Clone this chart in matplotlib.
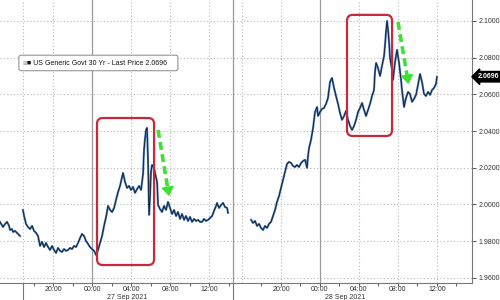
import matplotlib
matplotlib.use('Agg')
import matplotlib.pyplot as plt
import matplotlib.transforms as mtransforms
from matplotlib.patches import FancyBboxPatch

plt.rcParams['font.family'] = ['Liberation Sans', 'DejaVu Sans']

# hours relative to 27 Sep 2021 00:00, yields in %
pre_hours = [-9.44, -9.13, -8.92, -8.72, -8.51, -8.41, -8.21, -8.10, -7.90, -7.69, -7.49, -7.38]
pre_yield = [1.9905, 1.9877, 1.9894, 1.9905, 1.9883, 1.9861, 1.9866, 1.9850, 1.9856, 1.9845, 1.9834, 1.9828]

day1_hours = [-7.08, -6.97, -6.77, -6.56, -6.36, -6.15, -5.95, -5.74, -5.54, -5.33,
              -5.13, -4.92, -4.72, -4.51, -4.31, -4.10, -3.90, -3.69, -3.49, -3.28,
              -3.08, -2.87, -2.67, -2.46, -2.26, -2.05, -1.85, -1.64, -1.44, -1.23,
              -1.03, -0.82, -0.62, -0.41, -0.21, 0.00, 0.21, 0.41, 0.62, 0.82,
              1.03, 1.23, 1.44, 1.64, 1.85, 2.05, 2.26, 2.46, 2.67, 2.87,
              3.08, 3.18, 3.38, 3.59, 3.79, 4.00, 4.21, 4.41, 4.62, 4.82,
              5.03, 5.23, 5.33, 5.44, 5.54, 5.64, 5.74, 5.85, 5.95, 6.05,
              6.15, 6.36, 6.46, 6.67, 6.77, 6.97, 7.18, 7.38, 7.59, 7.79,
              8.00, 8.21, 8.41, 8.62, 8.82, 9.03, 9.23, 9.44, 9.64, 9.85,
              10.05, 10.26, 10.46, 10.67, 10.87, 11.08, 11.28, 11.49, 11.69, 11.90,
              12.10, 12.31, 12.51, 12.72, 12.82, 13.03, 13.23, 13.44, 13.64, 13.85,
              13.95]
day1_yield = [1.9970, 1.9937, 1.9894, 1.9877, 1.9866, 1.9883, 1.9856, 1.9845, 1.9828, 1.9774,
              1.9796, 1.9768, 1.9790, 1.9768, 1.9752, 1.9774, 1.9752, 1.9736, 1.9763, 1.9747,
              1.9741, 1.9757, 1.9747, 1.9752, 1.9763, 1.9757, 1.9774, 1.9768, 1.9790, 1.9817,
              1.9839, 1.9828, 1.9801, 1.9785, 1.9768, 1.9757, 1.9747, 1.9725, 1.9752, 1.9790,
              1.9828, 1.9883, 1.9932, 1.9992, 1.9970, 1.9959, 1.9981, 2.0025, 2.0068, 2.0101,
              2.0150, 2.0172, 2.0123, 2.0090, 2.0101, 2.0079, 2.0095, 2.0063, 2.0084, 2.0101,
              2.0079, 2.0166, 2.0297, 2.0362, 2.0406, 2.0417, 2.0243, 1.9943, 2.0046, 2.0177,
              2.0215, 2.0199, 2.0172, 2.0123, 1.9997, 1.9975, 1.9959, 1.9992, 1.9970, 2.0014,
              1.9981, 1.9948, 1.9970, 1.9937, 1.9959, 1.9921, 1.9948, 1.9916, 1.9937, 1.9910,
              1.9932, 1.9905, 1.9921, 1.9910, 1.9916, 1.9905, 1.9905, 1.9921, 1.9910, 1.9916,
              1.9926, 1.9937, 1.9965, 1.9992, 2.0008, 1.9981, 1.9997, 2.0008, 1.9986, 1.9981,
              1.9954]

day2_hours = [16.93, 17.13, 17.34, 17.54, 17.75, 17.95, 18.16, 18.36, 18.57, 18.77,
              18.98, 19.18, 19.39, 19.59, 19.80, 20.00, 20.21, 20.41, 20.62, 20.82,
              21.03, 21.23, 21.44, 21.64, 21.85, 22.06, 22.26, 22.47, 22.67, 22.77,
              22.88, 23.08, 23.29, 23.49, 23.70, 23.80, 24.00, 24.21, 24.41, 24.62,
              24.82, 25.03, 25.23, 25.44, 25.64, 25.85, 26.05, 26.26, 26.47, 26.67,
              26.88, 27.08, 27.29, 27.49, 27.70, 27.90, 28.11, 28.31, 28.52, 28.72,
              28.93, 29.13, 29.34, 29.54, 29.64, 29.75, 29.95, 30.16, 30.36, 30.57,
              30.67, 30.77, 30.88, 30.98, 31.08, 31.18, 31.39, 31.49, 31.70, 31.90,
              32.11, 32.31, 32.41, 32.62, 32.82, 33.03, 33.23, 33.44, 33.64, 33.85,
              34.05, 34.26, 34.46, 34.67, 34.87, 35.08, 35.29, 35.49, 35.70, 35.90,
              36.00]
day2_yield = [1.9916, 1.9899, 1.9910, 1.9883, 1.9894, 1.9872, 1.9861, 1.9883, 1.9872, 1.9894,
              1.9905, 1.9937, 1.9970, 2.0014, 2.0046, 2.0090, 2.0134, 2.0177, 2.0221, 2.0232,
              2.0226, 2.0210, 2.0204, 2.0215, 2.0204, 2.0226, 2.0237, 2.0243, 2.0199, 2.0264,
              2.0308, 2.0352, 2.0417, 2.0504, 2.0531, 2.0482, 2.0504, 2.0520, 2.0526, 2.0548,
              2.0580, 2.0668, 2.0689, 2.0635, 2.0591, 2.0548, 2.0499, 2.0461, 2.0482, 2.0510,
              2.0461, 2.0428, 2.0406, 2.0428, 2.0461, 2.0504, 2.0526, 2.0553, 2.0515, 2.0482,
              2.0515, 2.0548, 2.0591, 2.0624, 2.0722, 2.0771, 2.0744, 2.0700, 2.0755, 2.0809,
              2.0869, 2.0940, 2.1000, 2.0951, 2.0886, 2.0798, 2.0733, 2.0679, 2.0777, 2.0842,
              2.0771, 2.0679, 2.0624, 2.0531, 2.0580, 2.0613, 2.0602, 2.0559, 2.0575, 2.0597,
              2.0651, 2.0711, 2.0668, 2.0602, 2.0591, 2.0613, 2.0597, 2.0624, 2.0635, 2.0657,
              2.0696]

last_price = 2.0696
y_ticks = [1.96, 1.98, 2.00, 2.02, 2.04, 2.06, 2.08, 2.10]
tick_hours_day1 = [-4, 0, 4, 8, 12]
tick_hours_day2 = [20, 24, 28, 32, 36]
tick_labels = ['20:00', '00:00', '04:00', '08:00', '12:00']

# the chart squeezes out the quiet hours between the two sessions
GAP = 0.62
def shift2(h):
    return [v - GAP for v in h]

LINE_BLUE = '#4678b4'
RED = '#c8283c'
GREEN = '#3fe034'
GRID = '#b8b8b8'

fig = plt.figure(figsize=(5, 3), dpi=100)
ax = fig.add_axes([0, 17 / 300, 472 / 500, 283 / 300])
ax.set_xlim(-9.44, 38.97)
ax.set_ylim(1.9572, 2.1114)

for hx, yy in [(pre_hours, pre_yield), (day1_hours, day1_yield), (shift2(day2_hours), day2_yield)]:
    ax.plot(hx, yy, color=LINE_BLUE, lw=1.5, zorder=3)
    ax.plot(hx, yy, color='#0e1620', lw=0.55, zorder=4)

# grid
for y in y_ticks:
    ax.axhline(y, color=GRID, lw=0.8, ls=(0, (1, 2)), zorder=1)
dotted_x = [-7.08, -4, 4, 8, 12] + shift2([16, 20, 28, 32, 36])
for x in dotted_x:
    ax.axvline(x, color=GRID, lw=0.8, ls=(0, (1, 2)), zorder=1)
sep = 14.46
for x in [0, sep] + shift2([24]):
    ax.axvline(x, color='#9a9a9a', lw=0.9, zorder=1)

# long ticks below axis at session breaks
trans = mtransforms.blended_transform_factory(ax.transData, ax.transAxes)
for x in [-7.08, sep]:
    ax.plot([x, x], [0, -0.07], transform=trans, color='#777777', lw=0.8, clip_on=False)

# axes style
for s in ['top', 'left']:
    ax.spines[s].set_visible(False)
ax.spines['bottom'].set_color('#777777')
ax.spines['right'].set_color('#777777')
ax.spines['bottom'].set_linewidth(0.8)
ax.spines['right'].set_linewidth(0.8)

ax.yaxis.tick_right()
ax.set_yticks(y_ticks)
ax.set_yticklabels([f'{v:.4f}' for v in y_ticks])
ax.tick_params(axis='y', length=3, width=0.7, color='#555555', labelsize=5, pad=1.5, labelcolor='#333333')

ax.set_xticks(tick_hours_day1 + shift2(tick_hours_day2))
ax.set_xticklabels(tick_labels + tick_labels)
minor = [-6, -2, 2, 6, 10, 14] + shift2([18, 22, 26, 30, 34, 38])
ax.set_xticks(minor, minor=True)
ax.tick_params(axis='x', which='both', length=1.8, width=0.7, color='#555555', labelsize=5, pad=0.3, labelcolor='#333333')

ax.text(3.6, -0.05, '27 Sep 2021', transform=trans, ha='center', va='center', fontsize=5, color='#333333')
ax.text(25.9, -0.05, '28 Sep 2021', transform=trans, ha='center', va='center', fontsize=5, color='#333333')

# red highlight boxes
aspect = ((2.1114 - 1.9572) / 283) / ((38.97 + 9.44) / 472)
for x0, x1, y0, y1 in [(0.51, 6.36, 1.9670, 2.0471), (26.15, 30.77, 2.0373, 2.1033)]:
    box = FancyBboxPatch((x0, y0), x1 - x0, y1 - y0,
                         boxstyle='round,pad=0,rounding_size=0.6',
                         mutation_aspect=aspect, fc='none', ec=RED, lw=1.6, zorder=5)
    ax.add_patch(box)

# green dashed arrows
for (x0, y0), (x1, y1) in [((6.77, 2.0406), (7.95, 2.0030)), ((31.38, 2.0994), (32.51, 2.0640))]:
    fx = x0 + (x1 - x0) * 0.85
    fy = y0 + (y1 - y0) * 0.85
    ax.plot([x0, fx], [y0, fy], color=GREEN, lw=2.6, dashes=(2.2, 1.2), zorder=6, solid_capstyle='butt')
    ax.annotate('', xy=(x1, y1), xytext=(fx, fy),
                arrowprops=dict(arrowstyle='-|>,head_width=0.35,head_length=0.5', color=GREEN, lw=1.5),
                zorder=6)

# legend box
leg = FancyBboxPatch((0.040, 0.750), 0.337, 0.055, transform=ax.transAxes,
                     boxstyle='round,pad=0,rounding_size=0.006', fc='white', ec='#888888', lw=0.7, zorder=7)
ax.add_patch(leg)
ax.text(0.047, 0.777, '\u22A0', transform=ax.transAxes, fontsize=4, va='center', ha='left',
        color='#999999', family='DejaVu Sans', zorder=8)
ax.text(0.058, 0.777, '\u25A0 US Generic Govt 30 Yr - Last Price 2.0696', transform=ax.transAxes,
        fontsize=5, va='center', ha='left', color='#111111', zorder=8)

# last price tag
ax.annotate(f'{last_price:.4f}', xy=(1, last_price), xycoords=('axes fraction', 'data'),
            xytext=(4, 0), textcoords='offset points', ha='left', va='center', fontsize=5,
            color='white', fontweight='bold',
            bbox=dict(boxstyle='larrow,pad=0.25', fc='black', ec='black'),
            annotation_clip=False)

fig.savefig('out.png', dpi=100)
